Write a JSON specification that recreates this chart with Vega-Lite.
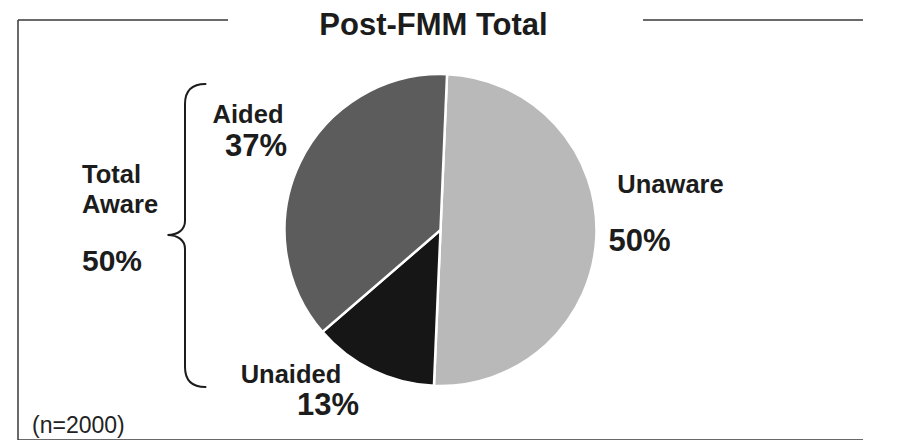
{
  "$schema": "https://vega.github.io/schema/vega-lite/v6.json",
  "width": 845,
  "height": 420,
  "autosize": {"type": "none"},
  "padding": {"left": 18, "top": 20, "right": 0, "bottom": 0},
  "background": "white",
  "view": {"stroke": "#3a3a3a", "strokeWidth": 1.5, "strokeDash": [210, 415, 220, 420, 1265, 0]},
  "config": {
    "text": {"font": "Liberation Sans"}
  },
  "title": {
    "text": "Post-FMM Total",
    "font": "Liberation Sans",
    "fontSize": 31,
    "fontWeight": "bold",
    "color": "#1c1c1c",
    "anchor": "middle",
    "frame": "group",
    "offset": -22,
    "dx": -7
  },
  "data": {
    "values": [
      {"category": "Unaware", "group": "Unaware", "share": 0.50},
      {"category": "Unaided", "group": "Total Aware", "share": 0.13},
      {"category": "Aided", "group": "Total Aware", "share": 0.37}
    ]
  },
  "layer": [
    {
      "mark": {"type": "arc", "radius": 156, "stroke": "#ffffff", "strokeWidth": 2.5},
      "encoding": {
        "theta": {"field": "share", "type": "quantitative", "stack": true, "scale": {"domain": [0, 1], "range": [0.042, -6.2412]}},
        "order": {"field": "category", "type": "nominal", "sort": "ascending"},
        "color": {"field": "category", "type": "nominal", "scale": {"domain": ["Unaware", "Unaided", "Aided"], "range": ["#b9b9b9", "#161616", "#5c5c5c"]}, "legend": null}
      }
    },
    {
      "mark": {"type": "text", "radius": 210, "dx": -3.4, "dy": -15.6, "align": "center", "baseline": "alphabetic", "fontSize": 25.5, "fontWeight": "bold", "color": "#1c1c1c"},
      "encoding": {
        "theta": {"field": "share", "type": "quantitative", "stack": true, "scale": {"domain": [0, 1], "range": [0.042, -6.2412]}},
        "order": {"field": "category", "type": "nominal", "sort": "ascending"},
        "detail": {"field": "category", "type": "nominal"},
        "text": {"condition": {"test": "datum.category === 'Aided'", "field": "category", "type": "nominal"}, "value": ""}
      }
    },
    {
      "mark": {"type": "text", "radius": 210, "dx": 4.6, "dy": 17.4, "align": "center", "baseline": "alphabetic", "fontSize": 31, "fontWeight": "bold", "color": "#1c1c1c"},
      "encoding": {
        "theta": {"field": "share", "type": "quantitative", "stack": true, "scale": {"domain": [0, 1], "range": [0.042, -6.2412]}},
        "order": {"field": "category", "type": "nominal", "sort": "ascending"},
        "detail": {"field": "category", "type": "nominal"},
        "text": {"condition": {"test": "datum.category === 'Aided'", "field": "share", "type": "quantitative", "format": ".0%"}, "value": ""}
      }
    },
    {
      "mark": {"type": "text", "radius": 210, "dx": -58.1, "dy": -36.1, "align": "center", "baseline": "alphabetic", "fontSize": 25.5, "fontWeight": "bold", "color": "#1c1c1c"},
      "encoding": {
        "theta": {"field": "share", "type": "quantitative", "stack": true, "scale": {"domain": [0, 1], "range": [0.042, -6.2412]}},
        "order": {"field": "category", "type": "nominal", "sort": "ascending"},
        "detail": {"field": "category", "type": "nominal"},
        "text": {"condition": {"test": "datum.category === 'Unaided'", "field": "category", "type": "nominal"}, "value": ""}
      }
    },
    {
      "mark": {"type": "text", "radius": 210, "dx": -21.1, "dy": -4.1, "align": "center", "baseline": "alphabetic", "fontSize": 31, "fontWeight": "bold", "color": "#1c1c1c"},
      "encoding": {
        "theta": {"field": "share", "type": "quantitative", "stack": true, "scale": {"domain": [0, 1], "range": [0.042, -6.2412]}},
        "order": {"field": "category", "type": "nominal", "sort": "ascending"},
        "detail": {"field": "category", "type": "nominal"},
        "text": {"condition": {"test": "datum.category === 'Unaided'", "field": "share", "type": "quantitative", "format": ".0%"}, "value": ""}
      }
    },
    {
      "mark": {"type": "text", "radius": 210, "dx": 20.2, "dy": -45.8, "align": "center", "baseline": "alphabetic", "fontSize": 25.5, "fontWeight": "bold", "color": "#1c1c1c"},
      "encoding": {
        "theta": {"field": "share", "type": "quantitative", "stack": true, "scale": {"domain": [0, 1], "range": [0.042, -6.2412]}},
        "order": {"field": "category", "type": "nominal", "sort": "ascending"},
        "detail": {"field": "category", "type": "nominal"},
        "text": {"condition": {"test": "datum.category === 'Unaware'", "field": "category", "type": "nominal"}, "value": ""}
      }
    },
    {
      "mark": {"type": "text", "radius": 210, "dx": -10.8, "dy": 12.2, "align": "center", "baseline": "alphabetic", "fontSize": 31, "fontWeight": "bold", "color": "#1c1c1c"},
      "encoding": {
        "theta": {"field": "share", "type": "quantitative", "stack": true, "scale": {"domain": [0, 1], "range": [0.042, -6.2412]}},
        "order": {"field": "category", "type": "nominal", "sort": "ascending"},
        "detail": {"field": "category", "type": "nominal"},
        "text": {"condition": {"test": "datum.category === 'Unaware'", "field": "share", "type": "quantitative", "format": ".0%"}, "value": ""}
      }
    },
    {
      "transform": [{"aggregate": [{"op": "sum", "field": "share", "as": "share"}], "groupby": ["group"]}],
      "mark": {"type": "text", "radius": 330, "dx": -28.8, "dy": -33.2, "align": "left", "baseline": "alphabetic", "fontSize": 25.5, "fontWeight": "bold", "lineBreak": " ", "lineHeight": 30.5, "color": "#1c1c1c"},
      "encoding": {
        "theta": {"field": "share", "type": "quantitative", "stack": true, "scale": {"domain": [0, 1], "range": [0.042, -6.2412]}},
        "order": {"field": "group", "type": "nominal", "sort": "ascending"},
        "detail": {"field": "group", "type": "nominal"},
        "text": {"condition": {"test": "datum.group === 'Total Aware'", "field": "group", "type": "nominal"}, "value": ""}
      }
    },
    {
      "transform": [{"aggregate": [{"op": "sum", "field": "share", "as": "share"}], "groupby": ["group"]}],
      "mark": {"type": "text", "radius": 330, "dx": -28.8, "dy": 54.8, "align": "left", "baseline": "alphabetic", "fontSize": 30, "fontWeight": "bold", "color": "#1c1c1c"},
      "encoding": {
        "theta": {"field": "share", "type": "quantitative", "stack": true, "scale": {"domain": [0, 1], "range": [0.042, -6.2412]}},
        "order": {"field": "group", "type": "nominal", "sort": "ascending"},
        "detail": {"field": "group", "type": "nominal"},
        "text": {"condition": {"test": "datum.group === 'Total Aware'", "field": "share", "type": "quantitative", "format": ".0%"}, "value": ""}
      }
    },
    {
      "transform": [{"aggregate": [{"op": "count", "as": "n"}]}],
      "mark": {"type": "point", "shape": "M-2.35,-1.46C-2.48,-1.46,-2.555,-1.4,-2.555,-1.26L-2.555,-0.09C-2.555,0,-2.63,0.05,-2.73,0.05C-2.63,0.05,-2.555,0.1,-2.555,0.19L-2.555,1.37C-2.555,1.51,-2.48,1.57,-2.35,1.57", "size": 40000, "filled": false, "stroke": "#1c1c1c", "strokeWidth": 2, "opacity": 1, "strokeCap": "round"},
      "encoding": {}
    },
    {
      "transform": [{"aggregate": [{"op": "count", "as": "n"}]}],
      "mark": {"type": "text", "text": "(n=2000)", "align": "left", "baseline": "alphabetic", "dx": -408.5, "dy": 203, "fontSize": 23, "color": "#222222"},
      "encoding": {}
    }
  ]
}
